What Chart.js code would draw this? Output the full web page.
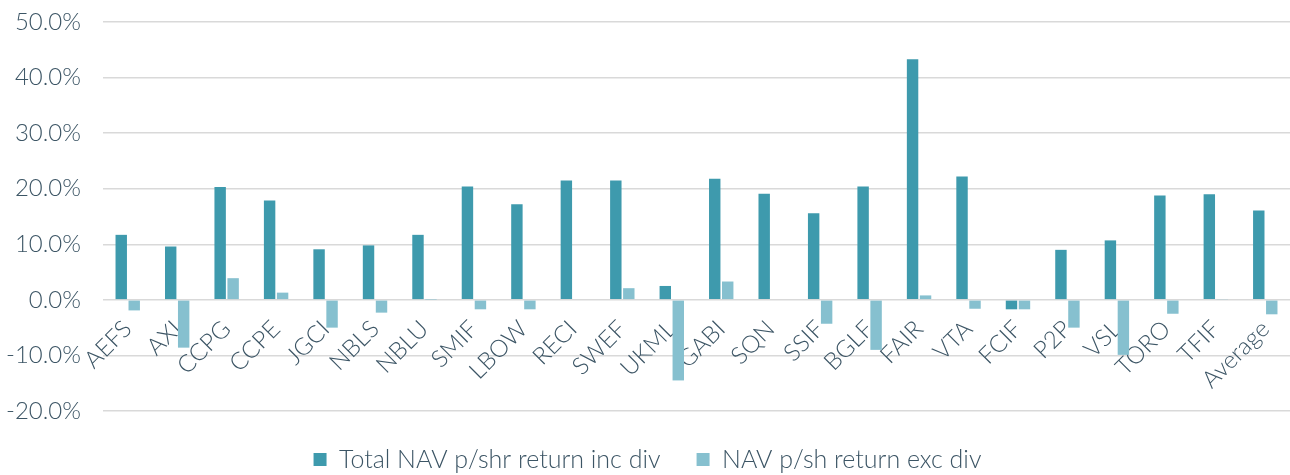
<!DOCTYPE html>
<html>
<head>
<meta charset="utf-8">
<script src="https://cdn.jsdelivr.net/npm/chart.js@4"></script>
<style>
html,body{margin:0;padding:0;background:#fff;}
#wrap{width:1290px;height:475px;position:relative;}
</style>
</head>
<body>
<div id="wrap"><canvas id="c"></canvas></div>
<script>
const categories = ["AEFS","AXI","CCPG","CCPE","JGCI","NBLS","NBLU","SMIF","LBOW","RECI","SWEF","UKML","GABI","SQN","SSIF","BGLF","FAIR","VTA","FCIF","P2P","VSL","TORO","TFIF","Average"];
const totalNavIncDiv = [11.7, 9.6, 20.3, 17.9, 9.1, 9.8, 11.7, 20.4, 17.2, 21.5, 21.5, 2.5, 21.8, 19.1, 15.6, 20.4, 43.3, 22.2, -1.7, 9.0, 10.7, 18.8, 19.0, 16.1];
const navExcDiv = [-1.9, -8.6, 3.9, 1.3, -5.0, -2.3, 0.05, -1.7, -1.7, 0, 2.1, -14.5, 3.3, 0, -4.3, -9.0, 0.8, -1.6, -1.7, -5.0, -9.9, -2.5, 0.1, -2.6];
const seriesNames = ["Total NAV p/shr return inc div", "NAV p/sh return exc div"];
const yTicks = {min: -20, max: 50, step: 10};

const textColor = '#3c5565';
const fontFamily = 'Lato, "Open Sans", sans-serif';

new Chart(document.getElementById('c'), {
  type: 'bar',
  data: {
    labels: categories,
    datasets: [
      {label: seriesNames[0], data: totalNavIncDiv, backgroundColor: '#3e9aad', borderWidth: 0, categoryPercentage: 0.525, barPercentage: 0.88},
      {label: seriesNames[1], data: navExcDiv, backgroundColor: '#86c0cf', borderWidth: 0, categoryPercentage: 0.525, barPercentage: 0.88}
    ]
  },
  options: {
    responsive: true,
    maintainAspectRatio: false,
    animation: false,
    layout: {padding: {top: 22, left: 5, right: 0, bottom: -7}},
    plugins: {
      legend: {
        position: 'bottom',
        labels: {
          boxWidth: 13, boxHeight: 13, padding: 36,
          color: textColor,
          font: {family: fontFamily, size: 25, weight: '300'}
        }
      },
      tooltip: {enabled: false}
    },
    scales: {
      x: {
        position: {y: 0},
        grid: {display: false, drawTicks: false},
        border: {display: false},
        ticks: {
          minRotation: 45, maxRotation: 45, autoSkip: false, padding: 15,
          color: textColor,
          font: {family: fontFamily, size: 24, weight: '300'}
        },
        afterFit(scale) { scale.height = 0; scale.paddingLeft = 0; scale.paddingRight = 0; }
      },
      y: {
        min: yTicks.min, max: yTicks.max,
        grid: {color: '#d9d9d9', lineWidth: 1.5, drawTicks: false},
        border: {display: false},
        ticks: {
          stepSize: yTicks.step, padding: 22,
          color: textColor,
          font: {family: fontFamily, size: 24, weight: '300'},
          callback: v => v.toFixed(1) + '%'
        },
        afterFit(scale) { scale.width = 98; scale.paddingTop = 0; scale.paddingBottom = 0; }
      }
    }
  }
});
</script>
</body>
</html>
